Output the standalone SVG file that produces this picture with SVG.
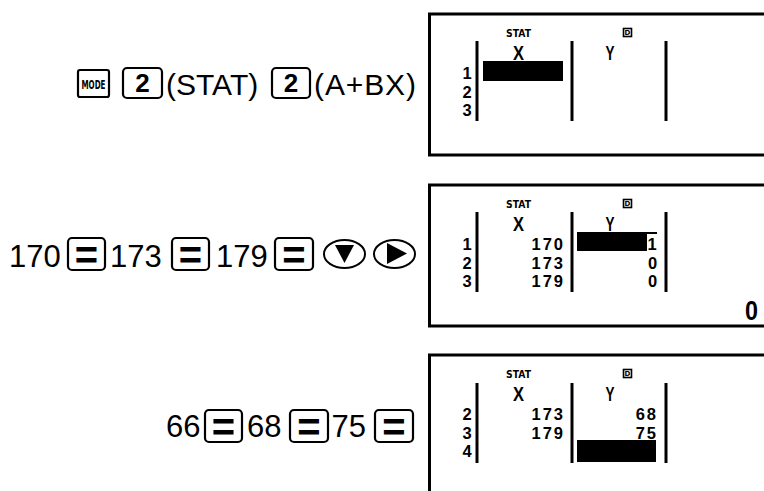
<svg xmlns="http://www.w3.org/2000/svg" width="764" height="491" viewBox="0 0 764 491">
<style>
.bg{fill:#fff}
.key{fill:#fff;stroke:#000;stroke-width:2.2}
.t{font-family:"Liberation Sans",Arial,sans-serif;font-size:30px;fill:#000}
.n{font-family:"Liberation Sans",Arial,sans-serif;font-size:31px;fill:#000}
.kt{font-family:"Liberation Sans",Arial,sans-serif;font-weight:bold;font-size:26px;fill:#000;text-anchor:middle}
.eq{font-family:"Liberation Sans",Arial,sans-serif;font-weight:bold;font-size:40px;fill:#000;text-anchor:middle}
.mode{font-family:"DejaVu Sans",sans-serif;font-weight:bold;font-size:13px;fill:#000;text-anchor:middle}
.frame{fill:none;stroke:#000;stroke-width:3}
.sep{stroke:#000;stroke-width:3}
.lcd{font-family:"Liberation Sans",Arial,sans-serif;font-weight:bold;font-size:16.5px;fill:#000}
.val{font-family:"Liberation Sans",Arial,sans-serif;font-weight:bold;font-size:16.5px;fill:#000;letter-spacing:2px;text-anchor:end}
.hd{font-family:"Liberation Sans",Arial,sans-serif;font-weight:bold;font-size:20px;fill:#000;text-anchor:middle}
.stat{font-family:"DejaVu Sans",sans-serif;font-weight:bold;font-size:11px;fill:#000}
.ic{fill:#fff;stroke:#000;stroke-width:1.6}
.ict{font-family:"DejaVu Sans",sans-serif;font-weight:bold;font-size:7px;fill:#000;text-anchor:middle}
.arrow{fill:#fff;stroke:#000;stroke-width:2}
</style>
<rect class="bg" x="0" y="0" width="764" height="491"/>

<g id="step1-keys">
  <rect class="key" x="78" y="70" width="31" height="27" rx="2"/>
  <text class="mode" x="93.5" y="88.5" textLength="24" lengthAdjust="spacingAndGlyphs">MODE</text>
  <rect class="key" x="123" y="68" width="39" height="30" rx="4"/>
  <text class="kt" x="142.5" y="92">2</text>
  <text class="t" x="166" y="95">(STAT)</text>
  <rect class="key" x="272" y="68" width="38" height="30" rx="4"/>
  <text class="kt" x="291" y="92">2</text>
  <text class="t" x="314" y="95" textLength="102" lengthAdjust="spacing">(A+BX)</text>
</g>

<g id="display1">
  <rect class="frame" x="429.5" y="14" width="345" height="141"/>
  <text class="stat" x="506" y="37" textLength="25" lengthAdjust="spacingAndGlyphs">STAT</text>
  <rect class="ic" x="623.5" y="28.5" width="8" height="8"/>
  <text class="ict" x="627.5" y="35">D</text>
  <line class="sep" x1="477" y1="41" x2="477" y2="121"/>
  <line class="sep" x1="572" y1="41" x2="572" y2="121"/>
  <line class="sep" x1="666" y1="41" x2="666" y2="121"/>
  <text class="lcd" text-anchor="middle"><tspan x="467" y="79">1</tspan><tspan x="467" y="97.5">2</tspan><tspan x="467" y="116">3</tspan></text>
  <text class="hd" x="518.5" y="60" textLength="11" lengthAdjust="spacingAndGlyphs">X</text>
  <text class="hd" x="610" y="60" textLength="9" lengthAdjust="spacingAndGlyphs">Y</text>
  <rect x="483" y="61" width="80" height="20" fill="#000"/>
</g>

<g id="step2-keys">
  <text class="n" x="9" y="267">170</text>
  <rect class="key" x="68" y="238" width="37" height="32" rx="4"/>
  <text class="eq" x="86.5" y="269">=</text>
  <text class="n" x="110" y="267">173</text>
  <rect class="key" x="172" y="238" width="37" height="32" rx="4"/>
  <text class="eq" x="190.5" y="269">=</text>
  <text class="n" x="216" y="267">179</text>
  <rect class="key" x="275" y="238" width="38" height="32" rx="4"/>
  <text class="eq" x="294" y="269">=</text>
  <ellipse class="arrow" cx="344.5" cy="254" rx="20.5" ry="14"/>
  <polygon points="335,245 354,245 344.5,263" fill="#000"/>
  <ellipse class="arrow" cx="394.5" cy="254" rx="20.5" ry="14"/>
  <polygon points="387,243 407,253.5 387,264" fill="#000"/>
</g>

<g id="display2">
  <rect class="frame" x="429.5" y="185" width="345" height="141"/>
  <text class="stat" x="506" y="208" textLength="25" lengthAdjust="spacingAndGlyphs">STAT</text>
  <rect class="ic" x="623.5" y="199.5" width="8" height="8"/>
  <text class="ict" x="627.5" y="206">D</text>
  <line class="sep" x1="477" y1="212" x2="477" y2="292"/>
  <line class="sep" x1="572" y1="212" x2="572" y2="292"/>
  <line class="sep" x1="666" y1="212" x2="666" y2="292"/>
  <text class="lcd" text-anchor="middle"><tspan x="467" y="250">1</tspan><tspan x="467" y="268.5">2</tspan><tspan x="467" y="287">3</tspan></text>
  <text class="hd" x="518.5" y="231" textLength="11" lengthAdjust="spacingAndGlyphs">X</text>
  <text class="hd" x="610" y="231" textLength="9" lengthAdjust="spacingAndGlyphs">Y</text>
  <text class="val"><tspan x="565" y="250">170</tspan><tspan x="565" y="268.5">173</tspan><tspan x="565" y="287">179</tspan></text>
  <rect x="577" y="232" width="70" height="19" fill="#000"/>
  <rect x="647" y="232" width="10" height="2" fill="#000"/>
  <text class="lcd" text-anchor="middle"><tspan x="652" y="250">1</tspan><tspan x="652.5" y="268.5">0</tspan><tspan x="652.5" y="287">0</tspan></text>
  <text class="lcd" x="745" y="320" style="font-size:27px" textLength="13" lengthAdjust="spacingAndGlyphs">0</text>
</g>

<g id="step3-keys">
  <text class="n" x="166" y="437">66</text>
  <rect class="key" x="205" y="410" width="37" height="32" rx="4"/>
  <text class="eq" x="223.5" y="441">=</text>
  <text class="n" x="247" y="437">68</text>
  <rect class="key" x="290" y="410" width="38" height="32" rx="4"/>
  <text class="eq" x="309" y="441">=</text>
  <text class="n" x="331.5" y="437">75</text>
  <rect class="key" x="375" y="410" width="38" height="32" rx="4"/>
  <text class="eq" x="394" y="441">=</text>
</g>

<g id="display3">
  <rect class="frame" x="429.5" y="355" width="345" height="150"/>
  <text class="stat" x="506" y="378" textLength="25" lengthAdjust="spacingAndGlyphs">STAT</text>
  <rect class="ic" x="623.5" y="369.5" width="8" height="8"/>
  <text class="ict" x="627.5" y="376">D</text>
  <line class="sep" x1="477" y1="383" x2="477" y2="463"/>
  <line class="sep" x1="572" y1="383" x2="572" y2="463"/>
  <line class="sep" x1="666" y1="383" x2="666" y2="463"/>
  <text class="lcd" text-anchor="middle"><tspan x="467" y="420">2</tspan><tspan x="467" y="438.5">3</tspan><tspan x="467" y="457">4</tspan></text>
  <text class="hd" x="518.5" y="401" textLength="11" lengthAdjust="spacingAndGlyphs">X</text>
  <text class="hd" x="610" y="401" textLength="9" lengthAdjust="spacingAndGlyphs">Y</text>
  <text class="val"><tspan x="565" y="420">173</tspan><tspan x="565" y="438.5">179</tspan></text>
  <text class="val"><tspan x="658" y="420">68</tspan><tspan x="658" y="438.5">75</tspan></text>
  <rect x="577" y="440" width="79" height="22" fill="#000"/>
</g>
</svg>
